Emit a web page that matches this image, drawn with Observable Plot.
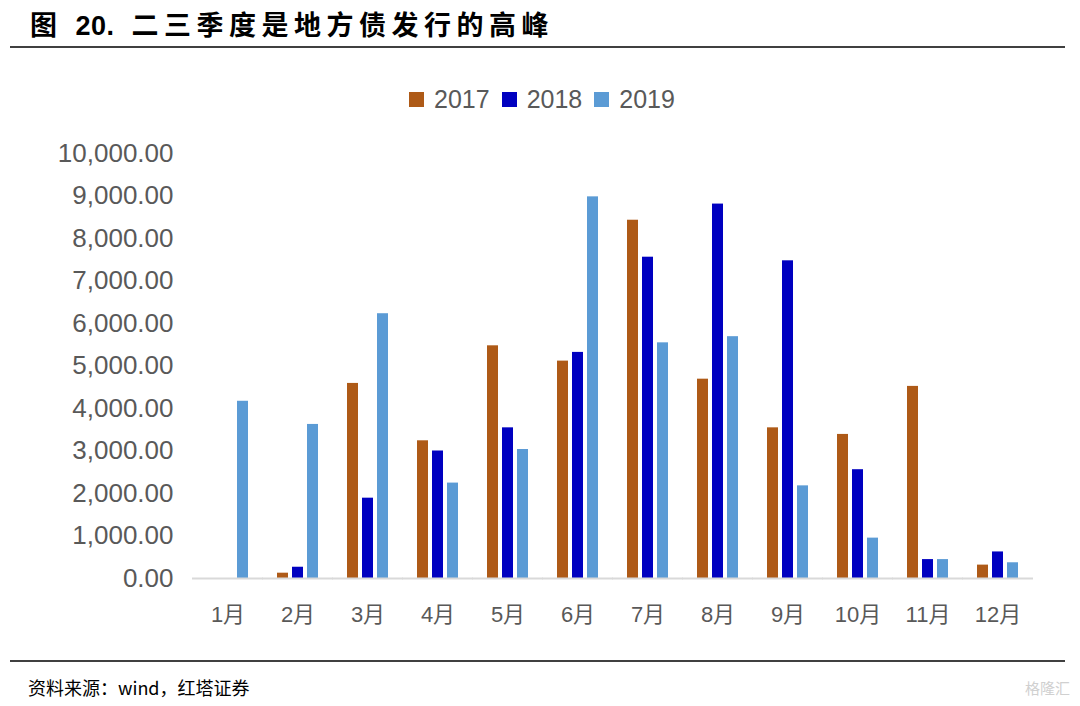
<!DOCTYPE html>
<html>
<head>
<meta charset="utf-8">
<script src="https://cdn.jsdelivr.net/npm/d3@7"></script>
<script src="https://cdn.jsdelivr.net/npm/@observablehq/plot@0.6"></script>
<style>
  html, body { margin: 0; padding: 0; background: #fff; }
  body { width: 1080px; height: 706px; position: relative; overflow: hidden; font-family: "Liberation Sans", "Noto Sans CJK SC", sans-serif; }
  #title { position: absolute; left: 30px; top: 4px; font-size: 27px; font-weight: bold; letter-spacing: 5.5px; color: #000; font-family: "Liberation Sans", "Noto Sans CJK SC", sans-serif; white-space: nowrap; }
  #title .num { letter-spacing: 0.5px; margin-left: 13px; margin-right: 17px; }
  .hr { position: absolute; left: 10px; width: 1055px; height: 2px; background: #404040; }
  #legend { position: absolute; top: 85px; left: 409px; display: flex; font-size: 25px; color: #595959; white-space: nowrap; }
  #legend span.item { display: inline-flex; align-items: center; margin-right: 12px; }
  #legend span.sw { display: inline-block; width: 15px; height: 15px; margin-right: 10px; }
  #chart { position: absolute; left: 0; top: 130px; }
  #source { position: absolute; left: 28px; top: 674px; font-size: 18px; color: #000; font-family: "Noto Sans CJK SC", sans-serif; }
  #mark { position: absolute; right: 10px; top: 677px; font-size: 15px; color: #d0d0d0; font-family: "Noto Sans CJK SC", sans-serif; }
</style>
</head>
<body>
<div id="title">图<span class="num">20.</span>二三季度是地方债发行的高峰</div>
<div class="hr" style="top:46px"></div>
<div id="legend"></div>
<div id="chart"></div>
<div class="hr" style="top:660px"></div>
<div id="source">资料来源：wind，红塔证券</div>
<div id="mark">格隆汇</div>
<script>
const months = ["1月","2月","3月","4月","5月","6月","7月","8月","9月","10月","11月","12月"];
const years = ["2017","2018","2019"];
const v2017 = [0, 125, 4590, 3240, 5475, 5115, 8430, 4690, 3545, 3390, 4520, 315];
const v2018 = [0, 265, 1890, 3000, 3545, 5320, 7560, 8810, 7475, 2560, 445, 625];
const v2019 = [4170, 3625, 6230, 2245, 3035, 8980, 5545, 5690, 2180, 950, 445, 370];
const colors = ["#AE5A17", "#0000C0", "#5B9BD5"];
const yTicks = [0,1000,2000,3000,4000,5000,6000,7000,8000,9000,10000];

const series = [v2017, v2018, v2019];
const data = [];
months.forEach((m, i) => years.forEach((y, j) => data.push({month: m, year: y, value: series[j][i]})));

// legend
const leg = document.getElementById("legend");
years.forEach((y, j) => {
  const it = document.createElement("span");
  it.className = "item";
  it.innerHTML = `<span class="sw" style="background:${colors[j]}"></span>${y}`;
  leg.appendChild(it);
});

const chart = Plot.plot({
  width: 1080,
  height: 510,
  marginTop: 23,
  marginBottom: 62,
  marginLeft: 190,
  marginRight: 44,
  style: {fontFamily: "Liberation Sans, Noto Sans CJK SC, sans-serif", color: "#595959", background: "#fff"},
  fx: {domain: months, paddingInner: 0.38, paddingOuter: 0.19, label: null, axis: null},
  x: {domain: years, paddingInner: 0.25, paddingOuter: 0, axis: null},
  y: {domain: [0, 10000], axis: null},
  color: {domain: years, range: colors},
  marks: [
    Plot.barY(data, {fx: "month", x: "year", y: "value", fill: "year"}),
    Plot.ruleY([0], {stroke: "#d9d9d9", strokeWidth: 2, insetLeft: -14, insetRight: -14}),
    Plot.axisY(yTicks, {tickFormat: d3.format(",.2f"), tickSize: 0, tickPadding: 33, fontSize: 26, fill: "#595959", label: null}),
    Plot.axisFx({tickSize: 0, tickPadding: 28, fontSize: 22, fill: "#595959", label: null, anchor: "bottom"})
  ]
});
document.getElementById("chart").appendChild(chart);
</script>
</body>
</html>
